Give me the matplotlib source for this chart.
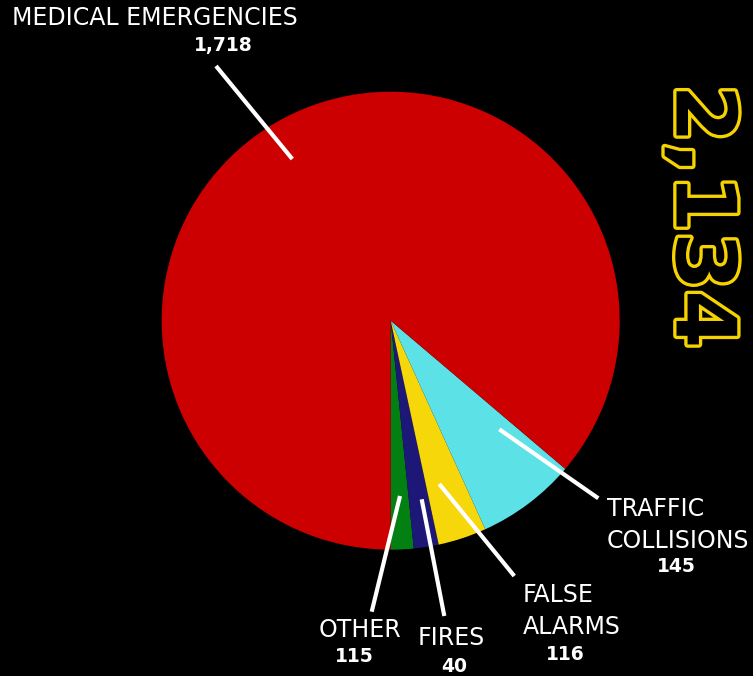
import matplotlib
matplotlib.use("Agg")
import matplotlib.pyplot as plt
import matplotlib.patheffects as pe

# categories in drawing order (counter clockwise on screen, starting straight down)
categories = ["OTHER", "FIRES", "FALSE\nALARMS", "TRAFFIC\nCOLLISIONS", "MEDICAL EMERGENCIES"]
label_values = [115, 40, 116, 145, 1718]   # numbers printed on the chart
slice_sizes = [32, 35, 68, 140, 1718]      # wedge sizes as drawn in the picture
colors = ["#038012", "#1d1777", "#f6d70a", "#5ce1e6", "#cc0000"]
total_text = "2,134"

W, H = 753, 676
fig = plt.figure(figsize=(W / 100, H / 100), dpi=100, facecolor="black")
ax = fig.add_axes([0, 0, 1, 1])
ax.set_facecolor("black")

# y axis runs top->bottom (pixel like), so clockwise in data = counter clockwise on screen
ax.pie(slice_sizes, colors=colors, startangle=90, counterclock=False,
       radius=229, center=(390.7, 320.7), wedgeprops=dict(linewidth=0))
ax.set_xlim(0, W)
ax.set_ylim(H, 0)
ax.set_aspect("equal")
ax.axis("off")

# leader lines (start inside the wedge, end near the label)
leaders = [
    ((400, 496), (371.7, 611.7)),
    ((421.7, 499.3), (444.3, 616)),
    ((439.3, 484), (514.3, 576)),
    ((499.3, 429.3), (598.3, 498.3)),
    ((292.3, 159), (216, 66)),
]
for (x0, y0), (x1, y1) in leaders:
    ax.plot([x0, x1], [y0, y1], color="white", lw=3, solid_capstyle="butt")

# label names and numbers
name_pos = [(360, 630, "center"), (451.5, 638, "center"), (523, 611, "left"),
            (607, 525, "left"), (154.5, 18, "center")]
value_pos = [(354, 657), (454.5, 667), (565.5, 655), (676, 567), (223.5, 45)]
for cat, val, (nx, ny, nha), (vx, vy) in zip(categories, label_values, name_pos, value_pos):
    ax.text(nx, ny, cat, color="white", fontsize=17, ha=nha, va="center",
            linespacing=1.45, family="DejaVu Sans")
    ax.text(vx, vy, f"{val:,}", color="white", fontsize=13.5, fontweight="bold",
            ha="center", va="center", family="DejaVu Sans")

# big outlined total on the right
ax.text(700, 216.5, total_text, rotation=-90, ha="center", va="center",
        fontsize=60, fontweight="bold", family="DejaVu Sans", color="black",
        path_effects=[pe.Stroke(linewidth=4.8, foreground="#f5d300"), pe.Normal()])

fig.savefig("out.png", dpi=100, facecolor="black")
